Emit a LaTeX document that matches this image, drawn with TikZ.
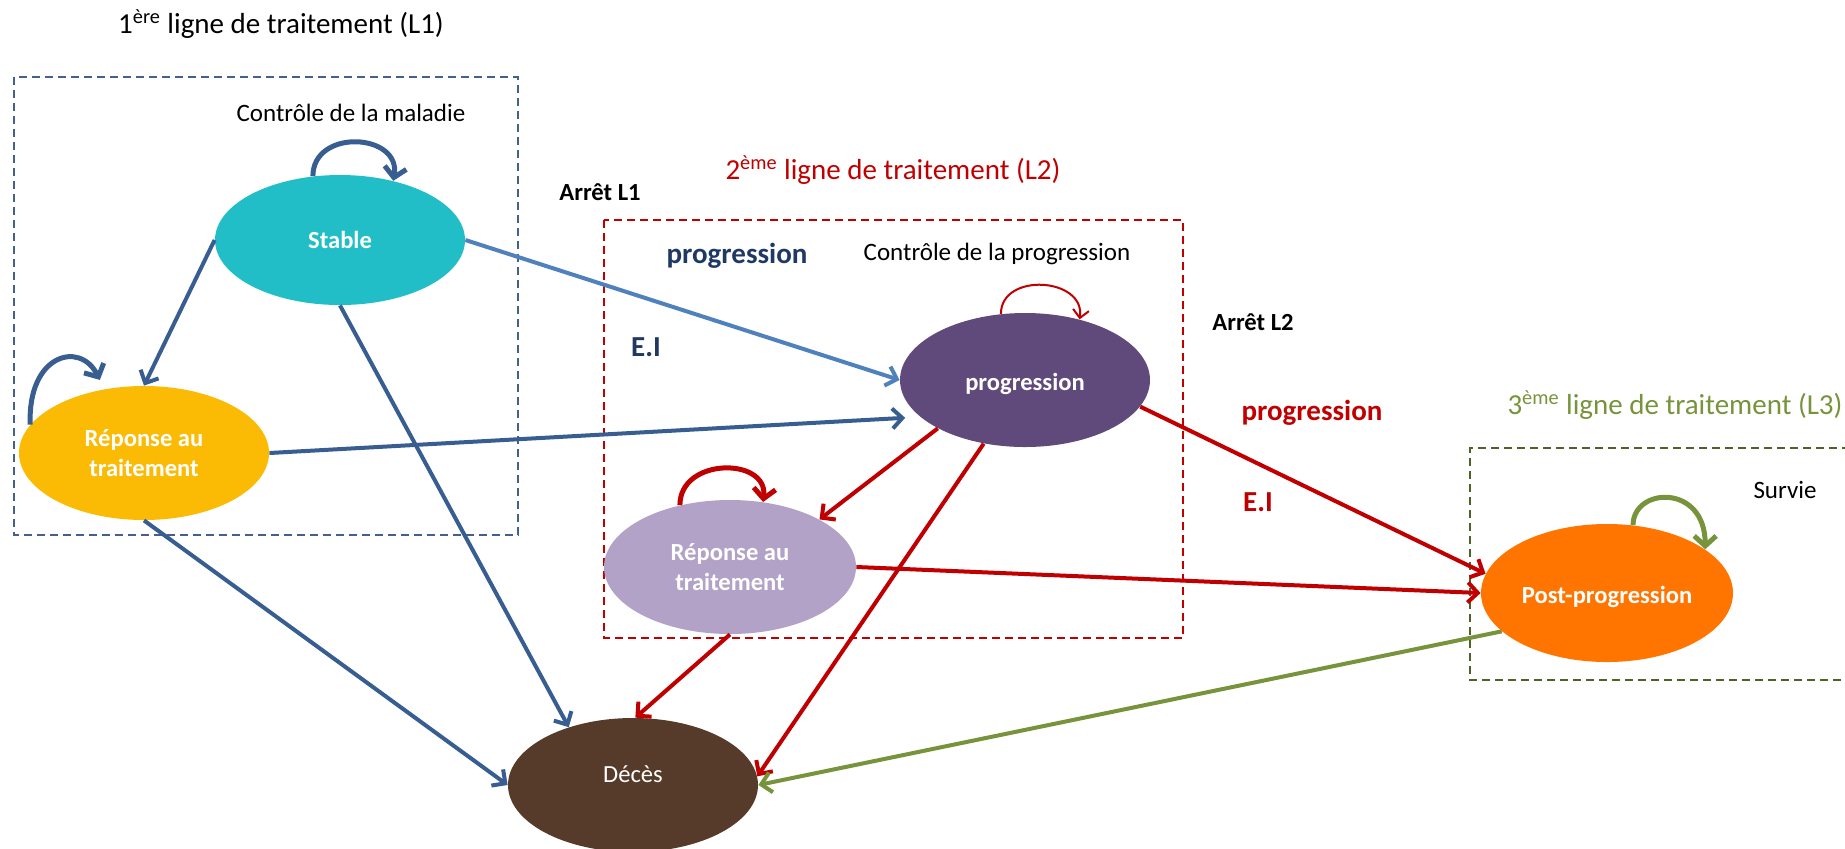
\documentclass[tikz,border=0pt]{standalone}
\usepackage{fontspec}
\setmainfont{Carlito}
\usetikzlibrary{arrows.meta,shapes.geometric}
\definecolor{cteal}{RGB}{33,190,200}
\definecolor{cyellow}{RGB}{251,186,4}
\definecolor{cpurple}{RGB}{96,74,123}
\definecolor{clilac}{RGB}{178,162,199}
\definecolor{corange}{RGB}{255,117,0}
\definecolor{cbrown}{RGB}{86,58,42}
\definecolor{cdblue}{RGB}{56,94,145}
\definecolor{clblue}{RGB}{79,129,189}
\definecolor{cred}{RGB}{192,0,0}
\definecolor{cgreen}{RGB}{119,147,60}
\definecolor{cdgreen}{RGB}{79,98,40}
\definecolor{cnavy}{RGB}{31,56,100}
\definecolor{cboxblue}{RGB}{68,97,140}
\tikzset{
  state/.style={ellipse, draw=none, minimum width=125pt, minimum height=67pt, inner sep=0pt,
    text=white, font=\fontsize{12.3}{15}\selectfont\bfseries, align=center},
  arr/.style={line width=2pt, -{Straight Barb[length=5pt,width=10pt]}},
  looparr/.style={line width=2.5pt, -{Straight Barb[length=5pt,width=11pt]}},
  thinloop/.style={line width=1pt, -{Straight Barb[length=4pt,width=8pt]}},
  boxline/.style={line width=0.8pt, dash pattern=on 4pt off 2.5pt},
  small/.style={font=\fontsize{12.5}{15}\selectfont},
  big/.style={font=\fontsize{14.5}{17}\selectfont},
  bigbold/.style={font=\fontsize{14.5}{17}\selectfont\bfseries},
  lab/.style={font=\fontsize{12.3}{15}\selectfont\bfseries},
}
\begin{document}
\begin{tikzpicture}[x=0.5pt,y=-0.5pt]
\useasboundingbox (0,0) rectangle (1845,848);
% frames
\draw[boxline, cboxblue] (14,77) rectangle (518,535);
\draw[boxline, cred] (604,220) rectangle (1183,638);
\draw[boxline, cdgreen] (1850,448) -- (1470,448) -- (1470,680) -- (1850,680);
% states
\node[state, fill=cteal, minimum height=65pt] (stable) at (340,240) {Stable};
\node[state, fill=cyellow] (rep1) at (144,453) {Réponse au\\traitement};
\node[state, fill=cpurple, text height=13pt, text depth=2.6pt] (prog) at (1025,380) {progression};
\node[state, fill=clilac, minimum width=126pt] (rep2) at (730,567) {Réponse au\\traitement};
\node[state, fill=corange, minimum width=126pt, minimum height=69pt, text height=13pt, text depth=2.6pt] (post) at (1607,593) {Post-progression};
\node[state, fill=cbrown, font=\fontsize{12.3}{15}\selectfont, text depth=11pt] (deces) at (633,785) {Décès};
% texts
\node[big] (t1) at (281,24) {1\textsuperscript{ère} ligne de traitement (L1)};
\node[small] (c1) at (351,113) {Contrôle de la maladie};
\node[big, text=cred] (t2) at (893,170) {2\textsuperscript{ème} ligne de traitement (L2)};
\node[lab] (a1) at (600,192) {Arrêt L1};
\node[bigbold, text=cnavy] (p1) at (737,256) {progression};
\node[small] (c2) at (997,254) {Contrôle de la progression};
\node[bigbold, text=cnavy] (e1) at (646,347) {E.I};
\node[lab] (a2) at (1253,322) {Arrêt L2};
\node[bigbold, text=cred] (p2) at (1312,413) {progression};
\node[bigbold, text=cred] (e2) at (1258,502) {E.I};
\node[big, text=cgreen] (t3) at (1675,405) {3\textsuperscript{ème} ligne de traitement (L3)};
\node[small] (s3) at (1785,490) {Survie};
% connectors
\draw[arr, cdblue] (stable.west) -- (rep1.north);
\draw[arr, cdblue] (stable.south) -- (deces.138);
\draw[arr, cdblue] (rep1.south) -- (deces.west);
\draw[arr, cdblue] (rep1.east) -- ([xshift=-8pt]prog.200);
\draw[arr, clblue] (stable.east) -- (prog.west);
\draw[arr, cred] (prog.209) -- (rep2.28);
\draw[arr, cred] (prog.237) -- (deces.4);
\draw[arr, cred] (rep2.south) -- (deces.88);
\draw[arr, cred] (prog.347) -- (post.171);
\draw[arr, cred] (rep2.east) -- (post.west);
\draw[arr, cgreen] (post.200) -- (deces.east);
% self loops
\draw[looparr, cdblue] (stable.113) .. controls +(0,-48) and +(8,-48) .. (stable.48);
\draw[looparr, cdblue] (rep1.166) .. controls +(-3,-70) and +(-20,-40) .. ([yshift=5pt]rep1.125);
\draw[thinloop, cred] (prog.110) .. controls +(0,-42) and +(6,-42) .. (prog.48);
\draw[looparr, cred] (rep2.129) .. controls +(0,-48) and +(5,-45) .. (rep2.63);
\draw[looparr, cgreen] (post.69) .. controls +(0,-38) and +(0,-66) .. (post.24);
\end{tikzpicture}
\end{document}
